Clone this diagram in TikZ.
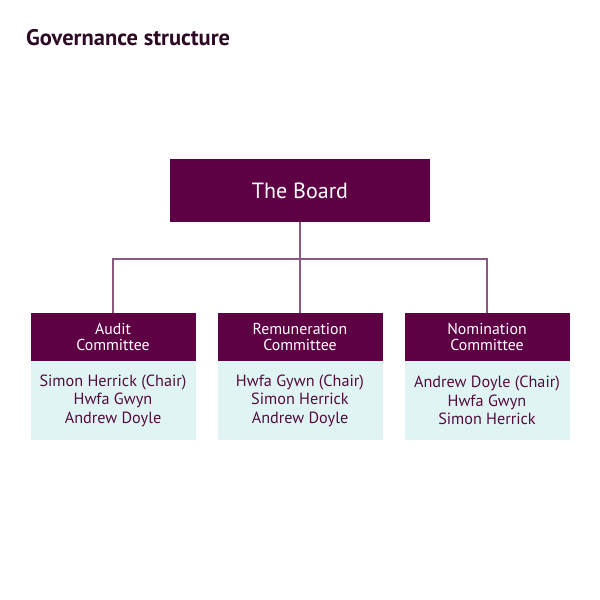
\documentclass[tikz,border=0pt]{standalone}
\usepackage{fontspec}
\setmainfont{PT Sans}
\usetikzlibrary{positioning,calc}

\definecolor{boardpurple}{RGB}{94,0,68}
\definecolor{bodycyan}{RGB}{225,244,244}
\definecolor{bodytext}{RGB}{82,12,62}
\definecolor{linkpurple}{RGB}{140,88,128}
\definecolor{titletext}{RGB}{45,10,35}

\begin{document}
\begin{tikzpicture}
  \useasboundingbox (0,0) rectangle (600pt,-600pt);

  % title
  \node [anchor=base west,inner sep=0,text=titletext,
    font=\fontsize{22.5}{26}\selectfont\bfseries] (title) at (26pt,-45pt)
    {Governance structure};

  \begin{scope}[
    every node/.style={
      rectangle,
      inner sep=0,
      outer sep=0,
      align=center,
    },
    boardbox/.style={
      fill=boardpurple,
      text=white,
      minimum width=260pt,
      minimum height=63pt,
      font=\fontsize{22}{25}\selectfont,
    },
    headbox/.style={
      fill=boardpurple,
      text=white,
      minimum width=165pt,
      minimum height=48pt,
      font=\fontsize{15.8}{16.5}\selectfont,
    },
    bodybox/.style={
      fill=bodycyan,
      text=bodytext,
      minimum width=165pt,
      minimum height=79pt,
      font=\fontsize{16.2}{18.5}\selectfont,
    },
    ]
    % Board
    \node [boardbox] (board) at (300pt,-190.5pt) {The Board};

    % Remuneration
    \node [headbox,below=91pt of board] (remhead)
    {Remuneration\\Committee};
    \node [bodybox,below=0pt of remhead] (rembody)
    {Hwfa Gywn (Chair)\\Simon Herrick\\Andrew Doyle};

    % Audit
    \node [headbox,left=22pt of remhead] (audithead)
    {Audit\\Committee};
    \node [bodybox,below=0pt of audithead] (auditbody)
    {Simon Herrick (Chair)\\Hwfa Gwyn\\Andrew Doyle};

    % Nomination
    \node [headbox,right=22pt of remhead] (nomhead)
    {Nomination\\Committee};
    \node [bodybox,below=0pt of nomhead] (nombody)
    {Andrew Doyle (Chair)\\Hwfa Gwyn\\Simon Herrick};
  \end{scope}
  \begin{scope}[
    myline/.style={
      draw=linkpurple,
      line width=1.2pt,
    },
    ]
    \coordinate (split) at ($(board.south)!0.407!(remhead.north)$);

    % Board to committees
    \draw [myline] (board.south) -- (remhead.north);
    \draw [myline] (audithead.north) |- (split) -| (nomhead.north);
  \end{scope}
\end{tikzpicture}
\end{document}
